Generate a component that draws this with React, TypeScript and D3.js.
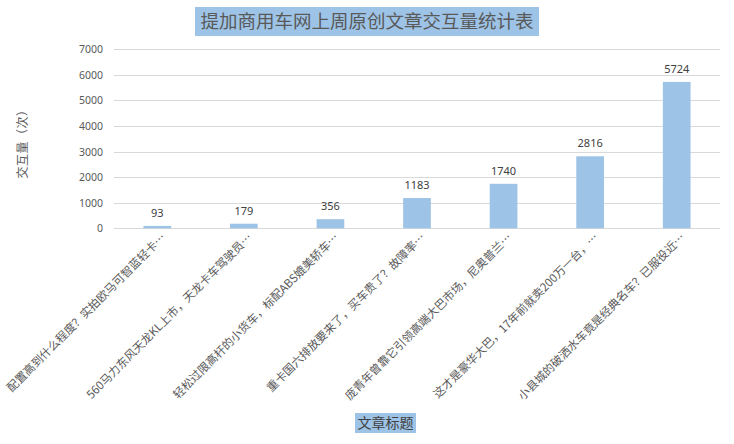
import * as d3 from "d3";
import { useEffect, useRef } from "react";

const titles = [
  "配置高到什么程度？实拍欧马可智蓝轻卡…",
  "560马力东风天龙KL上市，天龙卡车驾驶员…",
  "轻松过限高杆的小货车，标配ABS媲美轿车…",
  "重卡国六排放要来了，买车贵了？故障率…",
  "庞青年曾靠它引领高端大巴市场，尼奥普兰…",
  "这才是豪华大巴，17年前就卖200万一台，…",
  "小县城的破洒水车竟是经典名车？已服役近…",
];
const interactions = [93, 179, 356, 1183, 1740, 2816, 5724];
const yTicks = [0, 1000, 2000, 3000, 4000, 5000, 6000, 7000];

const chartTitle = "提加商用车网上周原创文章交互量统计表";
const yTitle = "交互量（次）";
const xTitle = "文章标题";

export default function App() {
  const svgRef = useRef<SVGSVGElement | null>(null);
  const width = 734;
  const height = 444;

  useEffect(() => {
    if (!svgRef.current) return;
    const svg = d3.select(svgRef.current);
    svg.selectAll("*").remove();

    const cjk = "'Noto Sans CJK SC', 'Noto Sans', sans-serif";
    const blue = "#9dc3e6";

    const x = d3
      .scaleBand()
      .domain(titles)
      .range([114, 720])
      .paddingInner(0.68)
      .paddingOuter(0.34);

    const y = d3.scaleLinear().domain([0, 7000]).range([228.3, 49.3]);

    // chart title
    svg
      .append("rect")
      .attr("x", 195)
      .attr("y", 7)
      .attr("width", 344)
      .attr("height", 29)
      .attr("fill", blue);
    svg
      .append("text")
      .attr("x", 367)
      .attr("y", 28)
      .attr("text-anchor", "middle")
      .attr("font-family", cjk)
      .attr("font-size", 18.5)
      .attr("fill", "#595959")
      .text(chartTitle);

    // gridlines
    svg
      .append("g")
      .selectAll("line")
      .data(yTicks)
      .enter()
      .append("line")
      .attr("x1", 114)
      .attr("x2", 720)
      .attr("y1", (d) => Math.round(y(d)) + 0.5)
      .attr("y2", (d) => Math.round(y(d)) + 0.5)
      .attr("stroke", "#d9d9d9")
      .attr("stroke-width", 1);

    // y tick labels
    svg
      .append("g")
      .selectAll("text")
      .data(yTicks)
      .enter()
      .append("text")
      .attr("x", 103)
      .attr("y", (d) => y(d) + 4)
      .attr("text-anchor", "end")
      .attr("font-family", "'Noto Sans', sans-serif")
      .attr("font-size", 10.5)
      .attr("fill", "#595959")
      .text((d) => d);

    // bars
    svg
      .append("g")
      .selectAll("rect")
      .data(interactions)
      .enter()
      .append("rect")
      .attr("x", (_, i) => x(titles[i])!)
      .attr("y", (d) => y(d))
      .attr("width", x.bandwidth())
      .attr("height", (d) => y(0) - y(d))
      .attr("fill", blue);

    // value labels
    svg
      .append("g")
      .selectAll("text")
      .data(interactions)
      .enter()
      .append("text")
      .attr("x", (_, i) => x(titles[i])! + x.bandwidth() / 2)
      .attr("y", (d) => y(d) - 9)
      .attr("text-anchor", "middle")
      .attr("font-family", "'Noto Sans', sans-serif")
      .attr("font-size", 11)
      .attr("fill", "#404040")
      .text((d) => d);

    // x category labels
    svg
      .append("g")
      .selectAll("text")
      .data(titles)
      .enter()
      .append("text")
      .attr("transform", (d) => `translate(${x(d)! + x.bandwidth() / 2 + 9},238) rotate(-45)`)
      .attr("text-anchor", "end")
      .attr("font-family", cjk)
      .attr("font-size", 11.5)
      .attr("fill", "#595959")
      .text((d) => d);

    // y axis title
    svg
      .append("text")
      .attr("transform", "translate(27,141) rotate(-90)")
      .attr("text-anchor", "middle")
      .attr("font-family", cjk)
      .attr("font-size", 12)
      .attr("letter-spacing", 0.5)
      .attr("fill", "#595959")
      .text(yTitle);

    // x axis title
    svg
      .append("rect")
      .attr("x", 355)
      .attr("y", 413)
      .attr("width", 61)
      .attr("height", 20)
      .attr("fill", blue);
    svg
      .append("text")
      .attr("x", 385.5)
      .attr("y", 428)
      .attr("text-anchor", "middle")
      .attr("font-family", cjk)
      .attr("font-size", 14)
      .attr("fill", "#404040")
      .text(xTitle);
  }, [svgRef]);

  return (
    <svg
      ref={svgRef}
      width={width}
      height={height}
      style={{ position: "absolute", left: 0, top: 0, background: "#fff" }}
    />
  );
}
